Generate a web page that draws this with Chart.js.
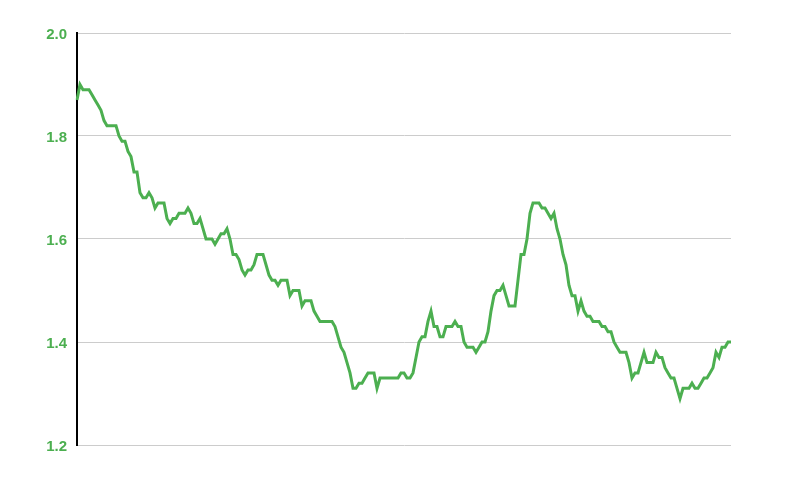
<!DOCTYPE html>
<html>
  <head>
    <script src="https://cdn.jsdelivr.net/npm/chart.js@4.4.0/dist/chart.umd.min.js"></script>
    <style>
      html, body { margin: 0; padding: 0; background: #fff; }
      #wrap { width: 800px; height: 480px; }
    </style>
  </head>
  <body>
    <div id="wrap"><canvas id="chart-line"></canvas></div>
    <script>
      // INPUT DATA

      const seriesValues = [
        1.87, 1.90, 1.89, 1.89, 1.89, 1.88, 1.87, 1.86, 1.85, 1.83,
        1.82, 1.82, 1.82, 1.82, 1.80, 1.79, 1.79, 1.77, 1.76, 1.73,
        1.73, 1.69, 1.68, 1.68, 1.69, 1.68, 1.66, 1.67, 1.67, 1.67,
        1.64, 1.63, 1.64, 1.64, 1.65, 1.65, 1.65, 1.66, 1.65, 1.63,
        1.63, 1.64, 1.62, 1.60, 1.60, 1.60, 1.59, 1.60, 1.61, 1.61,
        1.62, 1.60, 1.57, 1.57, 1.56, 1.54, 1.53, 1.54, 1.54, 1.55,
        1.57, 1.57, 1.57, 1.55, 1.53, 1.52, 1.52, 1.51, 1.52, 1.52,
        1.52, 1.49, 1.50, 1.50, 1.50, 1.47, 1.48, 1.48, 1.48, 1.46,
        1.45, 1.44, 1.44, 1.44, 1.44, 1.44, 1.43, 1.41, 1.39, 1.38,
        1.36, 1.34, 1.31, 1.31, 1.32, 1.32, 1.33, 1.34, 1.34, 1.34,
        1.31, 1.33, 1.33, 1.33, 1.33, 1.33, 1.33, 1.33, 1.34, 1.34,
        1.33, 1.33, 1.34, 1.37, 1.40, 1.41, 1.41, 1.44, 1.46, 1.43,
        1.43, 1.41, 1.41, 1.43, 1.43, 1.43, 1.44, 1.43, 1.43, 1.40,
        1.39, 1.39, 1.39, 1.38, 1.39, 1.40, 1.40, 1.42, 1.46, 1.49,
        1.50, 1.50, 1.51, 1.49, 1.47, 1.47, 1.47, 1.52, 1.57, 1.57,
        1.60, 1.65, 1.67, 1.67, 1.67, 1.66, 1.66, 1.65, 1.64, 1.65,
        1.62, 1.60, 1.57, 1.55, 1.51, 1.49, 1.49, 1.46, 1.48, 1.46,
        1.45, 1.45, 1.44, 1.44, 1.44, 1.43, 1.43, 1.42, 1.42, 1.40,
        1.39, 1.38, 1.38, 1.38, 1.36, 1.33, 1.34, 1.34, 1.36, 1.38,
        1.36, 1.36, 1.36, 1.38, 1.37, 1.37, 1.35, 1.34, 1.33, 1.33,
        1.31, 1.29, 1.31, 1.31, 1.31, 1.32, 1.31, 1.31, 1.32, 1.33,
        1.33, 1.34, 1.35, 1.38, 1.37, 1.39, 1.39, 1.40, 1.40,
      ];
      const categories = seriesValues.map(function (v, i) {
        return i;
      });
      const yTickValues = [1.2, 1.4, 1.6, 1.8, 2.0];

      // PLOTTING

      const green = "#4caf50";

      const ctx = document.getElementById("chart-line").getContext("2d");
      new Chart(ctx, {
        type: "line",
        data: {
          labels: categories,
          datasets: [
            {
              data: seriesValues,
              borderColor: green,
              borderWidth: 3,
              pointRadius: 0,
              fill: false,
              tension: 0,
            },
          ],
        },
        options: {
          responsive: true,
          maintainAspectRatio: false,
          animation: false,
          layout: { padding: { left: 0, right: 69, top: 33, bottom: 35 } },
          plugins: { legend: { display: false }, tooltip: { enabled: false } },
          scales: {
            x: { display: false, offset: false },
            y: {
              min: 1.2,
              max: 2.0,
              afterFit: function (scale) {
                scale.width = 77;
              },
              afterBuildTicks: function (scale) {
                scale.ticks = yTickValues.map(function (v) {
                  return { value: v };
                });
              },
              border: { display: true, color: "#000", width: 2 },
              grid: { color: "#cccccc", lineWidth: 1, drawTicks: false },
              ticks: {
                padding: 10,
                labelOffset: 2,
                color: green,
                font: { family: "'Liberation Sans', Arial, sans-serif", size: 15, weight: "bold" },
                callback: function (v) {
                  return Number(v).toFixed(1);
                },
              },
            },
          },
        },
      });
    </script>
  </body>
</html>
